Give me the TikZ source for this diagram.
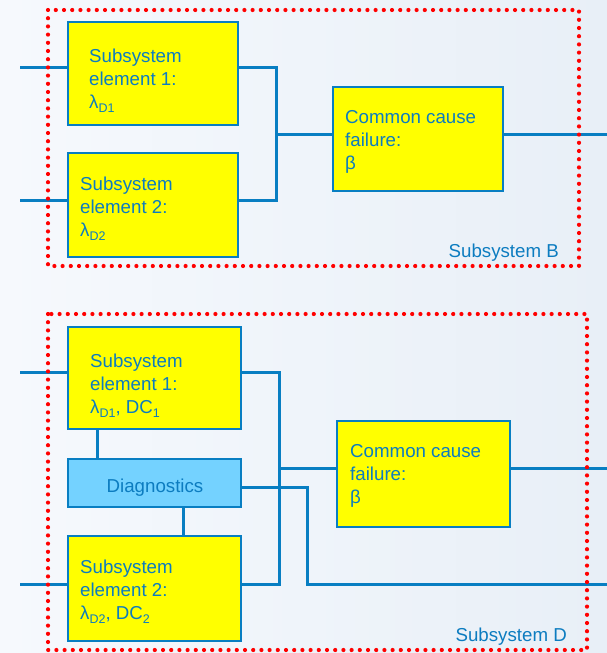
\documentclass[tikz,border=0pt]{standalone}
\usepackage{fontspec}
\setmainfont{Liberation Sans}
\pgfdeclarelayer{bg}
\pgfdeclarelayer{wires}
\pgfsetlayers{bg,wires,main}
\definecolor{wire}{RGB}{8,126,194}
\definecolor{ink}{RGB}{12,124,192}
\definecolor{boxyellow}{RGB}{255,255,0}
\definecolor{diagfill}{RGB}{116,210,255}
\definecolor{bgleft}{RGB}{246,249,253}
\definecolor{bgright}{RGB}{232,239,247}
\newcommand{\lowsub}[1]{\raisebox{-4.5pt}{\fontsize{12.5}{12.5}\selectfont #1}}
\newcommand{\txtlines}[1]{\begin{tabular}[t]{@{}l@{}}#1\end{tabular}}
\tikzset{
  block/.style={draw=wire, line width=2pt, fill=boxyellow, inner sep=0pt},
  diagbox/.style={draw=wire, line width=2pt, fill=diagfill, inner sep=0pt},
  wiring/.style={draw=wire, line width=3pt},
  lbl/.style={anchor=base west, inner sep=0pt, text=ink,
    font=\fontsize{18.7}{23}\selectfont},
  caption/.style={anchor=base east, inner sep=0pt, text=ink,
    font=\fontsize{18.7}{23}\selectfont},
  boundary/.style={draw=red, line width=4.2pt, line cap=round,
    dash pattern=on 0pt off 8.2pt},
}
\begin{document}
\begin{tikzpicture}[x=1pt, y=-1pt]
  % background
  \begin{pgfonlayer}{bg}
    \shade[left color=bgleft, right color=bgright] (0,0) rectangle (607,653);
  \end{pgfonlayer}
  \useasboundingbox (0,0) rectangle (607,653);

  % ---------- Subsystem B ----------
  \node[block, minimum width=170pt, minimum height=103pt] (b1) at (153,73.5) {};
  \node[block, minimum width=170pt, minimum height=104pt] (b2) at (153,205) {};
  \node[block, minimum width=170pt, minimum height=104pt] (ccfB) at (418,139) {};

  \coordinate (inB1) at (20,67);
  \coordinate (inB2) at (20,200);
  \coordinate (jB) at (276,134);
  \coordinate (outB) at (607,134);

  \begin{pgfonlayer}{wires}
    \draw[wiring] (inB1) -- (inB1 -| b1.west);
    \draw[wiring] (inB2) -- (inB2 -| b2.west);
    \draw[wiring] (inB1 -| b1.east) -| (jB) |- (inB2 -| b2.east);
    \draw[wiring] (jB) -- (jB -| ccfB.west);
    \draw[wiring] (jB -| ccfB.east) -- (outB);
  \end{pgfonlayer}

  \node[lbl] (tb1) at (89,62) {\txtlines{Subsystem\\element 1:\\λ\lowsub{D1}}};
  \node[lbl] (tb2) at (80,190) {\txtlines{Subsystem\\element 2:\\λ\lowsub{D2}}};
  \node[lbl] (tccfB) at (345,123) {\txtlines{Common cause\\failure:\\β}};
  \node[caption] (capB) at (559,257) {Subsystem B};

  \draw[boundary] (48,10) rectangle (579,266);

  % ---------- Subsystem D ----------
  \node[block, minimum width=173pt, minimum height=102pt] (d1) at (154.5,378) {};
  \node[diagbox, minimum width=173pt, minimum height=48pt] (diag) at (154.5,483) {};
  \node[block, minimum width=173pt, minimum height=105pt] (d2) at (154.5,588.5) {};
  \node[block, minimum width=173pt, minimum height=106pt] (ccfD) at (423.5,474) {};

  \coordinate (inD1) at (20,372);
  \coordinate (inD2) at (20,584);
  \coordinate (jD) at (279,468);
  \coordinate (outD) at (607,468);
  \coordinate (dg1) at (307,487);
  \coordinate (dg2) at (307,584);
  \coordinate (outDg) at (607,584);
  \coordinate (tapA) at (97,0);
  \coordinate (tapB) at (183,0);

  \begin{pgfonlayer}{wires}
    \draw[wiring] (inD1) -- (inD1 -| d1.west);
    \draw[wiring] (inD2) -- (inD2 -| d2.west);
    \draw[wiring] (inD1 -| d1.east) -| (jD) |- (inD2 -| d2.east);
    \draw[wiring] (jD) -- (jD -| ccfD.west);
    \draw[wiring] (jD -| ccfD.east) -- (outD);
    \draw[wiring] (dg1 -| diag.east) -- (dg1) -- (dg2) -- (outDg);
    \draw[wiring] (tapA |- d1.south) -- (tapA |- diag.north);
    \draw[wiring] (tapB |- diag.south) -- (tapB |- d2.north);
  \end{pgfonlayer}

  \node[lbl] (td1) at (90,367) {\txtlines{Subsystem\\element 1:\\λ\lowsub{D1}, DC\lowsub{1}}};
  \node[lbl, anchor=base] (tdiag) at (155,492) {Diagnostics};
  \node[lbl] (td2) at (80,573) {\txtlines{Subsystem\\element 2:\\λ\lowsub{D2}, DC\lowsub{2}}};
  \node[lbl] (tccfD) at (350,457) {\txtlines{Common cause\\failure:\\β}};
  \node[caption] (capD) at (567,641) {Subsystem D};

  \draw[boundary] (48,314) rectangle (587,650);
\end{tikzpicture}
\end{document}
